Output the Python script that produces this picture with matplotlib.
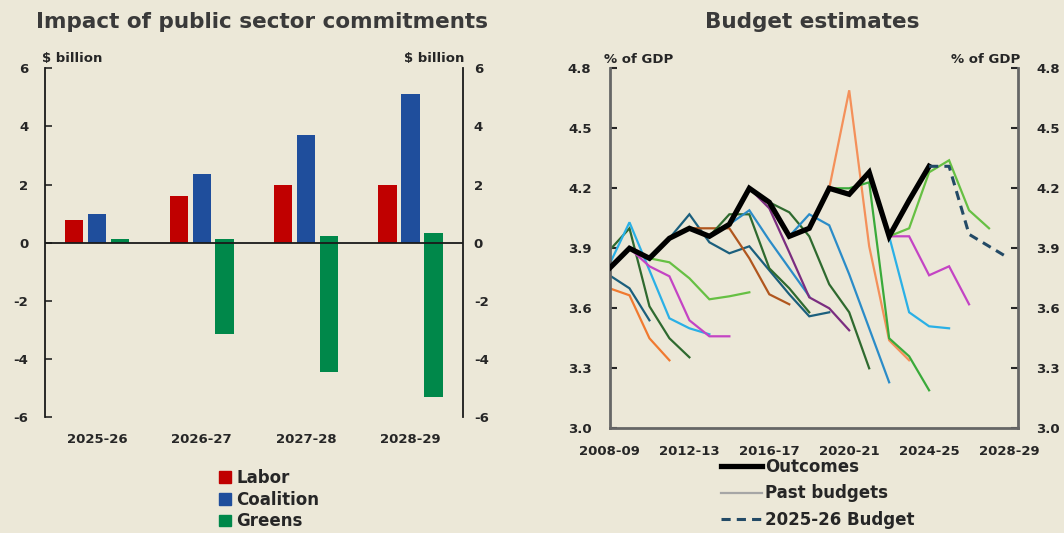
import matplotlib
matplotlib.use("Agg")
import matplotlib.pyplot as plt
from matplotlib.patches import Patch
from matplotlib.lines import Line2D

plt.rcParams['font.family'] = ['DejaVu Sans']
plt.rcParams['font.weight'] = 'bold'
plt.rcParams['axes.unicode_minus'] = False

# ---------------- Left chart data ----------------
bar_years = ['2025-26', '2026-27', '2027-28', '2028-29']
labor = [0.8, 1.6, 2.0, 2.0]
coalition = [1.0, 2.35, 3.7, 5.1]
greens_pos = [0.13, 0.14, 0.25, 0.34]
greens_neg = [0.0, -3.15, -4.43, -5.3]
bar_yticks = [-6, -4, -2, 0, 2, 4, 6]

# ---------------- Right chart data ----------------
fy_labels = ['2008-09', '2009-10', '2010-11', '2011-12', '2012-13', '2013-14',
             '2014-15', '2015-16', '2016-17', '2017-18', '2018-19', '2019-20',
             '2020-21', '2021-22', '2022-23', '2023-24', '2024-25', '2025-26',
             '2026-27', '2027-28', '2028-29']
outcomes = [3.80, 3.90, 3.85, 3.95, 4.00, 3.96, 4.02, 4.20, 4.13, 3.96, 4.00,
            4.20, 4.17, 4.28, 3.96, 4.14, 4.31]
budget_2025_26 = [4.31, 4.31, 3.97, 3.91, 3.85]          # from 2024-25
budget_2025_26_start = 16

# past budgets: start year index and values
pb01_start, pb01 = 0, [3.70, 3.665, 3.45, 3.34]
pb02_start, pb02 = 0, [3.765, 3.70, 3.54]
pb03_start, pb03 = 0, [3.89, 4.00, 3.61, 3.45, 3.355]
pb04_start, pb04 = 0, [3.82, 4.03, 3.79, 3.55, 3.50, 3.47]
pb05_start, pb05 = 1, [3.90, 3.81, 3.76, 3.54, 3.46, 3.46]
pb06_start, pb06 = 2, [3.85, 3.83, 3.75, 3.645, 3.66, 3.68]
pb07_start, pb07 = 3, [3.95, 4.07, 3.93, 3.875, 3.91, 3.79, 3.67, 3.56, 3.58]
pb08_start, pb08 = 4, [4.00, 4.00, 4.00, 3.85, 3.67, 3.62]
pb09_start, pb09 = 5, [3.96, 4.07, 4.07, 3.80, 3.70, 3.58]
pb10_start, pb10 = 6, [4.02, 4.09, 3.94, 3.80, 3.66]
pb11_start, pb11 = 7, [4.20, 4.10, 3.88, 3.655, 3.60, 3.49]
pb12_start, pb12 = 8, [4.13, 4.08, 3.96, 3.72, 3.58, 3.30]
pb13_start, pb13 = 9, [3.96, 4.07, 4.015, 3.77, 3.50, 3.23]
pb14_start, pb14 = 11, [4.20, 4.69, 3.91, 3.44, 3.34]
pb15_start, pb15 = 11, [4.20, 4.20, 4.23, 3.45, 3.36, 3.19]
pb16_start, pb16 = 13, [4.28, 3.96, 3.58, 3.51, 3.50]
pb17_start, pb17 = 14, [3.96, 3.96, 3.765, 3.81, 3.62]
pb18_start, pb18 = 14, [3.96, 4.00, 4.28, 4.34, 4.09, 4.00]
gdp_yticks = [3.0, 3.3, 3.6, 3.9, 4.2, 4.5, 4.8]

# ---------------- styles ----------------
bg = '#ECE8D8'
c_orange = '#F07A30'
c_salmon = '#F4905A'
c_teal = '#1B5F7D'
c_sky = '#2AB0E6'
c_mblue = '#2B8CC8'
c_dgreen = '#2F6A2F'
c_green = '#3AAA3A'
c_lgreen = '#66C043'
c_magenta = '#C444C4'
c_purple = '#7B2D80'
c_brown = '#B0561E'

past = [
    (pb01_start, pb01, c_orange), (pb02_start, pb02, c_teal),
    (pb03_start, pb03, c_dgreen), (pb04_start, pb04, c_sky),
    (pb05_start, pb05, c_magenta), (pb06_start, pb06, c_lgreen),
    (pb07_start, pb07, c_teal), (pb08_start, pb08, c_brown),
    (pb09_start, pb09, c_dgreen), (pb10_start, pb10, c_mblue),
    (pb11_start, pb11, c_purple), (pb12_start, pb12, c_dgreen),
    (pb13_start, pb13, c_mblue), (pb14_start, pb14, c_salmon),
    (pb15_start, pb15, c_green), (pb16_start, pb16, c_sky),
    (pb17_start, pb17, c_magenta), (pb18_start, pb18, c_lgreen),
]

txt = '#262626'
title_col = '#3A3A3A'
W, H = 1064, 533

fig = plt.figure(figsize=(W / 100, H / 100), dpi=100)
fig.patch.set_facecolor(bg)

def fx(px):
    return px / W

def fy(py):
    return 1 - py / H

# ================= LEFT =================
axL = fig.add_axes([fx(45), fy(417.3), fx(462.7 - 45), (417.3 - 68.3) / H])
axL.set_facecolor(bg)
x = list(range(len(bar_years)))
bw = 0.175
off = 0.22
axL.bar([i - off for i in x], labor, width=bw, color='#C00000', zorder=2)
axL.bar(x, coalition, width=bw, color='#1F4E9C', zorder=2)
axL.bar([i + off for i in x], greens_pos, width=bw, color='#00884A', zorder=2)
axL.bar([i + off for i in x], greens_neg, width=bw, color='#00884A', zorder=2)
axL.axhline(0, color='#1a1a1a', lw=1.3, zorder=3)
axL.set_xlim(-0.5, 3.5)
axL.set_ylim(-6, 6)
axL.set_xticks(x)
axL.set_xticklabels(bar_years)
axL.set_yticks(bar_yticks)
for s in ['top', 'bottom']:
    axL.spines[s].set_visible(False)
for s in ['left', 'right']:
    axL.spines[s].set_color('#1a1a1a')
    axL.spines[s].set_linewidth(1.3)
axL.tick_params(axis='x', length=0, pad=11, labelsize=9.5, colors=txt)
axL.tick_params(axis='y', direction='in', length=5, width=1.2, pad=12,
                labelsize=9.5, colors=txt, left=True, right=True)
axL2 = axL.twinx()
axL2.set_ylim(-6, 6)
axL2.set_yticks(bar_yticks)
axL2.tick_params(axis='y', direction='in', length=0, pad=8, labelsize=9.5, colors=txt)
for s in axL2.spines.values():
    s.set_visible(False)

fig.text(fx(262), fy(28.3), 'Impact of public sector commitments', ha='center',
         va='baseline', fontsize=15.5, weight='bold', color=title_col)
fig.text(fx(42), fy(61.7), '$ billion', ha='left', va='baseline', fontsize=9.5,
         weight='bold', color=txt)
fig.text(fx(464), fy(61.7), '$ billion', ha='right', va='baseline', fontsize=9.5,
         weight='bold', color=txt)

legL = fig.legend(handles=[Patch(color='#C00000', label='Labor'),
                           Patch(color='#1F4E9C', label='Coalition'),
                           Patch(color='#00884A', label='Greens')],
                  loc='upper left', bbox_to_anchor=(fx(219), fy(469)),
                  frameon=False, fontsize=12, handlelength=0.7, handleheight=0.7,
                  handletextpad=0.35, labelspacing=0.22, borderpad=0,
                  borderaxespad=0)
for t in legL.get_texts():
    t.set_color(txt)

# ================= RIGHT =================
axR = fig.add_axes([fx(609.5), fy(428.3), fx(1018 - 609.5), (428.3 - 68.3) / H])
axR.set_facecolor(bg)
for start, vals, col in past:
    axR.plot(range(start, start + len(vals)), vals, color=col, lw=1.6,
             solid_joinstyle='miter', zorder=2)
axR.plot(range(len(outcomes)), outcomes, color='black', lw=3.8, zorder=4,
         solid_joinstyle='miter')
axR.plot(range(budget_2025_26_start, budget_2025_26_start + len(budget_2025_26)),
         budget_2025_26, color='#234A66', lw=2.2, ls=(0, (3, 2)), zorder=5)
axR.set_xlim(0, 20.45)
axR.set_ylim(3.0, 4.8)
axR.set_xticks(range(0, 21, 4))
axR.set_xticklabels([fy_labels[i] for i in range(0, 21, 4)])
axR.set_yticks(gdp_yticks)
axR.set_yticklabels([f'{v:.1f}' for v in gdp_yticks])
axR.spines['top'].set_visible(False)
for s in ['left', 'right', 'bottom']:
    axR.spines[s].set_color('#666666')
    axR.spines[s].set_linewidth(2)
axR.tick_params(axis='x', direction='in', length=0, pad=12, labelsize=9.5, colors=txt)
axR.tick_params(axis='y', direction='in', length=5, width=1.5, pad=13,
                labelsize=9.5, colors=txt, left=True, right=True,
                labelleft=True, labelright=True)

fig.text(fx(812), fy(28.3), 'Budget estimates', ha='center', va='baseline',
         fontsize=15.5, weight='bold', color=title_col)
fig.text(fx(604), fy(62.7), '% of GDP', ha='left', va='baseline', fontsize=9.5,
         weight='bold', color=txt)
fig.text(fx(1020), fy(62.7), '% of GDP', ha='right', va='baseline', fontsize=9.5,
         weight='bold', color=txt)

legR = fig.legend(handles=[Line2D([], [], color='black', lw=3.8, label='Outcomes'),
                           Line2D([], [], color='#A6A6A6', lw=1.6, label='Past budgets'),
                           Line2D([], [], color='#234A66', lw=2.2, ls=(0, (3, 2)),
                                  label='2025-26 Budget')],
                  loc='upper left', bbox_to_anchor=(fx(721), fy(458)),
                  frameon=False, fontsize=12, handlelength=2.45,
                  handletextpad=0.2, labelspacing=0.5, borderpad=0,
                  borderaxespad=0)
for t in legR.get_texts():
    t.set_color(txt)

fig.savefig('out.png', dpi=100, facecolor=bg)
